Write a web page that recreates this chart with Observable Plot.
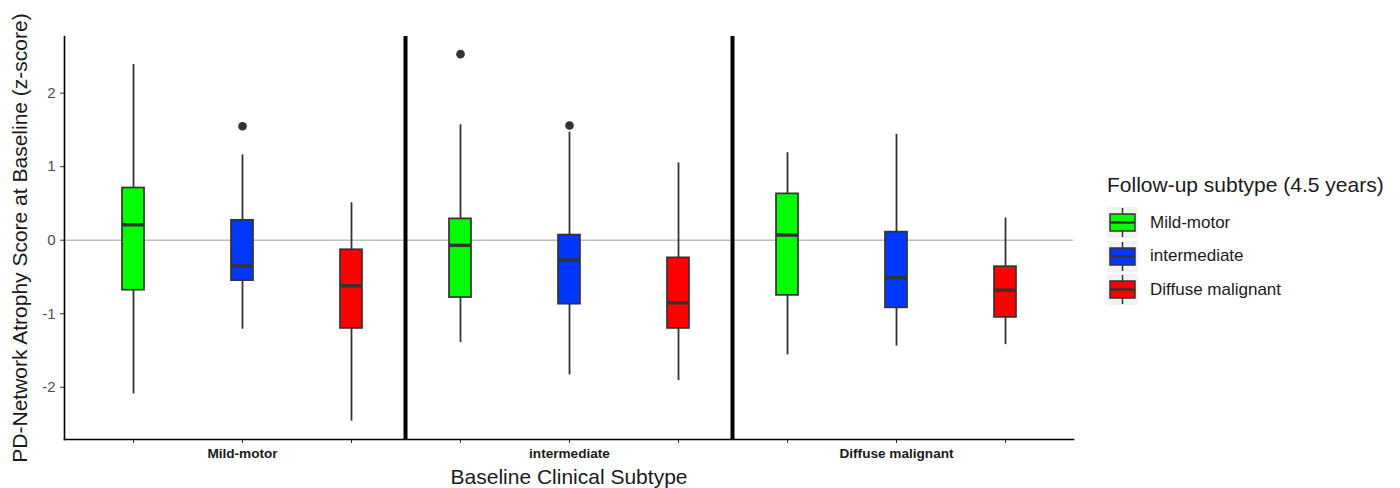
<!DOCTYPE html>
<html>
<head>
<meta charset="utf-8">
<script src="https://cdn.jsdelivr.net/npm/d3@7"></script>
<script src="https://cdn.jsdelivr.net/npm/@observablehq/plot@0.6"></script>
<style>
  html, body { margin: 0; padding: 0; background: #fff; }
  #wrap { position: relative; width: 1400px; height: 488px; font-family: "Liberation Sans", Arial, sans-serif; }
  #legend { position: absolute; left: 1107px; top: 170px; color: #1a1a1a; }
  #legend .title { font-size: 21px; line-height: 30px; margin-bottom: 6px; white-space: nowrap; }
  #legend .row { display: flex; align-items: center; height: 33.5px; }
  #legend .row svg { display: block; }
  #legend .row span { font-size: 17px; margin-left: 12px; white-space: nowrap; }
</style>
</head>
<body>
<div id="wrap"><div id="chart"></div><div id="legend"></div></div>
<script>
// ---- data ----
const baselineSubtypes = ["Mild-motor", "intermediate", "Diffuse malignant"];
const followupSubtypes = ["Mild-motor", "intermediate", "Diffuse malignant"];
const followupColors = ["#00ff00", "#0037ff", "#ff0000"];

// order: for each baseline subtype, the three follow-up subtypes
const whiskerLow  = [-2.09, -1.21, -2.46,  -1.39, -1.83, -1.91,  -1.56, -1.44, -1.42];
const q1Values    = [-0.68, -0.55, -1.20,  -0.78, -0.87, -1.20,  -0.75, -0.92, -1.05];
const medianVals  = [ 0.21, -0.35, -0.62,  -0.07, -0.27, -0.85,   0.07, -0.51, -0.68];
const q3Values    = [ 0.71,  0.27, -0.13,   0.29,  0.07, -0.24,   0.63,  0.11, -0.36];
const whiskerHigh = [ 2.39,  1.16,  0.51,   1.57,  1.47,  1.05,   1.19,  1.44,  0.30];

const outlierBaseline = ["Mild-motor", "intermediate", "intermediate"];
const outlierFollowup = ["intermediate", "Mild-motor", "intermediate"];
const outlierValues   = [1.55, 2.53, 1.56];

const yTicks = [-2, -1, 0, 1, 2];

// ---- build tables ----
const keyOf = (b, f) => b + "|" + f;
const rows = [];
baselineSubtypes.forEach((b, i) => followupSubtypes.forEach((f, j) => {
  const k = i * 3 + j;
  rows.push({key: keyOf(b, f), baseline: b, followup: f,
    lo: whiskerLow[k], q1: q1Values[k], median: medianVals[k], q3: q3Values[k], hi: whiskerHigh[k]});
}));
const outliers = outlierValues.map((v, i) => ({key: keyOf(outlierBaseline[i], outlierFollowup[i]), value: v}));
const xDomain = rows.map(d => d.key);

const chart = Plot.plot({
  width: 1400,
  height: 488,
  marginLeft: 64,
  marginRight: 327,
  marginTop: 36,
  marginBottom: 49,
  style: {fontFamily: "'Liberation Sans', Arial, sans-serif", background: "#fff"},
  x: {type: "band", domain: xDomain, paddingInner: 0.8, paddingOuter: 0.5},
  y: {domain: [-2.71, 2.77]},
  color: {domain: followupSubtypes, range: followupColors},
  marks: [
    Plot.ruleY([0], {stroke: "#bdbdbd", strokeWidth: 1.6}),
    Plot.ruleX(rows, {x: "key", y1: "lo", y2: "hi", stroke: "#333333", strokeWidth: 1.8}),
    Plot.barY(rows, {x: "key", y1: "q1", y2: "q3", fill: "followup", stroke: "#333333", strokeWidth: 1.7}),
    Plot.tickY(rows, {x: "key", y: "median", stroke: "#333333", strokeWidth: 3.5}),
    Plot.dot(outliers, {x: "key", y: "value", r: 4.3, fill: "#333333", stroke: "none"}),
    Plot.axisY({ticks: yTicks, tickFormat: d => String(d), tickSize: 4, tickPadding: 5, fontSize: 15, color: "#4d4d4d", stroke: "#333333",
      label: "PD-Network Atrophy Score at Baseline (z-score)", labelAnchor: "center", labelArrow: false, labelOffset: 52}),
    Plot.axisX({tickSize: 4, tickPadding: 5, fontSize: 13.6, fontWeight: "bold", color: "#1a1a1a", stroke: "#333333",
      tickFormat: k => k.endsWith("|intermediate") ? k.split("|")[0] : "",
      label: "Baseline Clinical Subtype", labelAnchor: "center", labelArrow: false, labelOffset: 44}),
    Plot.frame({anchor: "left", stroke: "#000", strokeWidth: 1.6}),
    Plot.frame({anchor: "bottom", stroke: "#000", strokeWidth: 1.6})
  ]
});
document.getElementById("chart").appendChild(chart);

// axis titles: larger, dark
d3.select(chart).selectAll("g[aria-label='x-axis label'] text, g[aria-label='y-axis label'] text")
  .attr("font-size", 21).attr("fill", "#1a1a1a").attr("font-weight", "normal");

// thick separators between baseline groups, positioned via the x scale
const xs = chart.scale("x"), ys = chart.scale("y");
const bw = xs.bandwidth;
const [yb, yt] = [ys.apply(ys.domain[0]), ys.apply(ys.domain[1])];
const sepPairs = [[xDomain[2], xDomain[3]], [xDomain[5], xDomain[6]]];
const sepG = d3.select(chart).append("g").attr("aria-label", "separators");
sepPairs.forEach(([a, b]) => {
  const xp = (xs.apply(a) + xs.apply(b)) / 2 + bw / 2;
  sepG.append("line").attr("x1", xp).attr("x2", xp).attr("y1", yt).attr("y2", yb)
    .attr("stroke", "#000").attr("stroke-width", 4);
});

// legend
const legend = d3.select("#legend");
legend.append("div").attr("class", "title").text("Follow-up subtype (4.5 years)");
followupSubtypes.forEach((name, i) => {
  const row = legend.append("div").attr("class", "row");
  const s = row.append("svg").attr("width", 31).attr("height", 31);
  s.append("rect").attr("width", 31).attr("height", 31).attr("fill", "#f2f2f2");
  s.append("line").attr("x1", 15.5).attr("x2", 15.5).attr("y1", 1).attr("y2", 30).attr("stroke", "#333").attr("stroke-width", 1.5);
  s.append("rect").attr("x", 3).attr("y", 7).attr("width", 25).attr("height", 17)
    .attr("fill", followupColors[i]).attr("stroke", "#333").attr("stroke-width", 1.5);
  s.append("line").attr("x1", 3).attr("x2", 28).attr("y1", 15.5).attr("y2", 15.5).attr("stroke", "#333").attr("stroke-width", 2.5);
  row.append("span").text(name);
});
</script>
</body>
</html>
